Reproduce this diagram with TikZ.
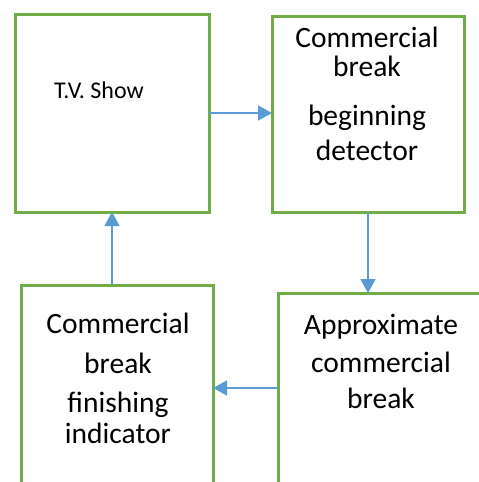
\documentclass[tikz,border=0pt]{standalone}
\usepackage{fontspec}
\setmainfont{Carlito}
\usetikzlibrary{arrows.meta}
\definecolor{boxgreen}{HTML}{70AD47}
\definecolor{arrowblue}{HTML}{5B9BD5}
\tikzset{
  box/.style={draw=boxgreen, line width=3pt, rectangle, inner sep=0pt, outer sep=0pt, fill=none},
  big/.style={anchor=base, inner sep=0pt, font=\fontsize{29.5}{35}\selectfont},
  small/.style={anchor=base, inner sep=0pt, font=\fontsize{24}{28}\selectfont},
  flow/.style={draw=arrowblue, line width=1.6pt, -{Triangle[length=14pt,width=15pt]}}
}
\begin{document}
\begin{tikzpicture}[x=1pt,y=-1pt]
\useasboundingbox (0,0) rectangle (479,482);
\clip (0,0) rectangle (479,482);
\fill[white] (0,0) rectangle (479,482);
% boxes
\node[box, minimum width=194pt, minimum height=198pt] (tv) at (112,113) {};
\node[box, minimum width=192pt, minimum height=196pt] (cb) at (368,114) {};
\node[box, minimum width=192pt, minimum height=206pt] (fi) at (117,388) {};
\node[box, minimum width=240pt, minimum height=220pt] (ap) at (398,403) {};
% texts
\node[small] (t1) at (99,98) {T.V. Show};
\node[big] (c1) at (367,47) {Commercial};
\node[big] (c2) at (367,76) {break};
\node[big] (c3) at (367,125) {beginning};
\node[big] (c4) at (367,160) {detector};
\node[big] (f1) at (118,333) {Commercial};
\node[big] (f2) at (118,373) {break};
\node[big] (f3) at (118,412) {finishing};
\node[big] (f4) at (118,443) {indicator};
\node[big] (a1) at (381,334) {Approximate};
\node[big] (a2) at (381,372) {commercial};
\node[big] (a3) at (381,408) {break};
% connectors
\draw[flow] (tv.east) -- (tv.east -| cb.west);
\draw[flow] (cb.south) -- (cb.south |- ap.north);
\draw[flow] (ap.west |- fi.east) -- (fi.east);
\draw[flow] (tv.south |- fi.north) -- (tv.south);
\end{tikzpicture}
\end{document}
